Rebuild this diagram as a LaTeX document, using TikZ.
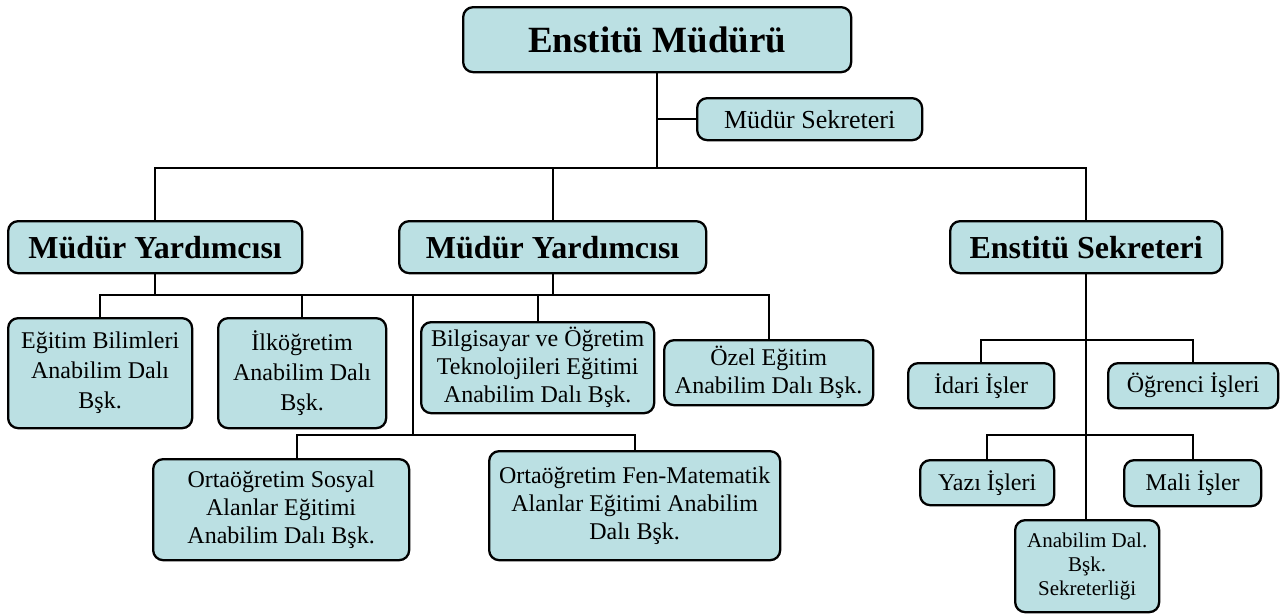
\documentclass[tikz,border=0pt]{standalone}
\usepackage{fontspec}
\setmainfont{Liberation Serif}
\definecolor{boxfill}{RGB}{187,224,227}
\begin{document}
\begin{tikzpicture}[x=1pt,y=-1pt,
  box/.style={draw=black, line width=2.3pt, rounded corners=10pt, fill=boxfill,
    align=center, inner sep=0pt, anchor=north west},
  txt/.style={font=\fontsize{24}{28}\selectfont},
  head/.style={font=\fontsize{32}{36}\selectfont\bfseries},
  conn/.style={line width=2.2pt}]
\useasboundingbox (0,0) rectangle (1282,614);

% top level
\node[box, minimum width=388pt, minimum height=65pt, font=\fontsize{37}{40}\selectfont\bfseries] (title) at (462,6) {Enstitü Müdürü};
\node[box, minimum width=225pt, minimum height=42pt, font=\fontsize{26}{30}\selectfont] (msek) at (696,97) {Müdür Sekreteri};

% second level
\node[box, head, minimum width=294pt, minimum height=52pt] (my1) at (7,220) {Müdür Yardımcısı};
\node[box, head, minimum width=307pt, minimum height=52pt] (my2) at (398,220) {Müdür Yardımcısı};
\node[box, head, minimum width=272pt, minimum height=52pt] (es) at (949,220) {Enstitü Sekreteri};

% departments
\node[box, font=\fontsize{24}{30}\selectfont, minimum width=184pt, minimum height=110pt] (egitim) at (7,317) {Eğitim Bilimleri\\Anabilim Dalı\\Bşk.};
\node[box, font=\fontsize{24}{30}\selectfont, minimum width=168pt, minimum height=110pt] (ilk) at (217,317) {İlköğretim\\Anabilim Dalı\\Bşk.};
\node[box, txt, minimum width=233pt, minimum height=91pt] (bilg) at (420,321) {Bilgisayar ve Öğretim\\Teknolojileri Eğitimi\\Anabilim Dalı Bşk.};
\node[box, txt, minimum width=209pt, minimum height=65pt] (ozel) at (663,339) {Özel Eğitim\\Anabilim Dalı Bşk.};
\node[box, txt, minimum width=256pt, minimum height=101pt] (sosyal) at (152,458) {Ortaöğretim Sosyal\\Alanlar Eğitimi\\Anabilim Dalı Bşk.};
\node[box, txt, minimum width=291pt, minimum height=109pt] (fen) at (488,450) {Ortaöğretim Fen-Matematik\\Alanlar Eğitimi Anabilim\\Dalı Bşk.};

% secretary units
\node[box, txt, minimum width=146pt, minimum height=45pt] (idari) at (907,362) {İdari İşler};
\node[box, txt, minimum width=170pt, minimum height=45pt] (ogr) at (1107,362) {Öğrenci İşleri};
\node[box, txt, minimum width=134pt, minimum height=45pt] (yazi) at (919,459) {Yazı İşleri};
\node[box, txt, minimum width=137pt, minimum height=46pt] (mali) at (1123,459) {Mali İşler};
\node[box, font=\fontsize{21}{24}\selectfont, minimum width=144pt, minimum height=92pt] (anab) at (1014,519) {Anabilim Dal.\\Bşk.\\Sekreterliği};

% junction coordinates
\coordinate (h1) at (656,168);
\coordinate (h2) at (154,295);
\coordinate (v1) at (413,295);
\coordinate (h3) at (413,435);
\coordinate (r1) at (1085,340);
\coordinate (r2) at (1085,435);

% connectors
\draw[conn] (title.south) -- (title.south |- h1);
\draw[conn] (title.south |- msek.west) -- (msek.west);
\draw[conn] (my1.north) |- (h1) -| (es.north);
\draw[conn] (my2.north) -- (my2.north |- h1);

\draw[conn] (my1.south) -- (my1.south |- h2);
\draw[conn] (egitim.north) |- (h2) -| (ozel.north);
\draw[conn] (ilk.north) -- (ilk.north |- h2);
\draw[conn] (bilg.north) -- (bilg.north |- h2);
\draw[conn] (my2.south) -- (my2.south |- h2);

\draw[conn] (v1) -- (h3);
\draw[conn] ([xshift=16pt]sosyal.north) |- (h3) -| (fen.north);

\draw[conn] (es.south) -- (es.south |- anab.north);
\draw[conn] (idari.north) |- (r1) -| (ogr.north);
\draw[conn] (yazi.north) |- (r2) -| (mali.north);
\end{tikzpicture}
\end{document}
